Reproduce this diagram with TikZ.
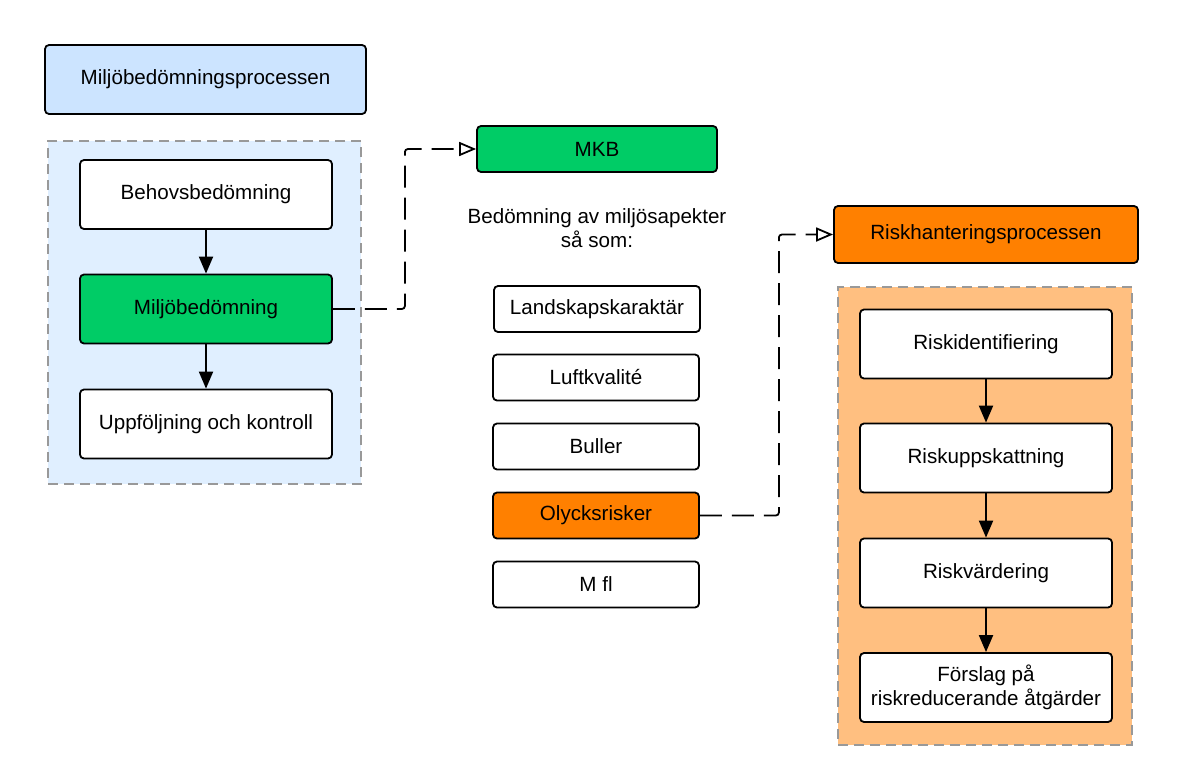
\documentclass[tikz,border=0pt]{standalone}
\usepackage{fontspec}
\setmainfont{Liberation Sans}
\usetikzlibrary{arrows.meta}

\definecolor{mkbgreen}{HTML}{00CC66}
\definecolor{riskorange}{HTML}{FF8000}
\definecolor{riskbg}{HTML}{FFBF80}
\definecolor{titleblue}{HTML}{CCE4FF}
\definecolor{procbg}{HTML}{E0EFFF}
\definecolor{framegray}{HTML}{999999}

\tikzset{
  box/.style={draw=black, line width=1.8pt, rounded corners=4pt, fill=white,
    minimum width=252pt, minimum height=69pt, inner sep=0pt, align=center,
    font=\fontsize{20.6}{24.5}\selectfont},
  aspect/.style={box, minimum width=206pt, minimum height=46pt},
  frame/.style={draw=framegray, line width=1.5pt, dash pattern=on 10pt off 6pt,
    minimum width=313pt, minimum height=343pt, inner sep=0pt},
  flow/.style={line width=2pt, -{Triangle[length=17pt,width=14pt]}},
  link/.style={line width=1.8pt, dash pattern=on 22pt off 10pt, rounded corners=3pt,
    -{Triangle[open,length=17pt,width=14pt,line width=1.8pt]}}
}

\begin{document}
\begin{tikzpicture}[x=1pt,y=-1pt]
\useasboundingbox (0,0) rectangle (1185,768);

% left column
\node[box, fill=titleblue, minimum width=321pt] (title) at (205.5,79.5) {Miljöbedömningsprocessen};
\node[frame, fill=procbg] (procframe) at (204.5,312.5) {};
\node[box] (beh) at (206,194.5) {Behovsbedömning};
\node[box, fill=mkbgreen] (milj) at (206,309) {Miljöbedömning};
\node[box] (upp) at (206,424) {Uppföljning och kontroll};
\draw[flow] (beh) -- (milj);
\draw[flow] (milj) -- (upp);

% middle column
\node[box, fill=mkbgreen, minimum width=240pt, minimum height=46pt] (mkb) at (597,149) {MKB};
\node[align=center, font=\fontsize{20.6}{24.5}\selectfont] (intro) at (597,228) {Bedömning av miljösapekter\\så som:};
\node[aspect] (land) at (597,309) {Landskapskaraktär};
\node[aspect] (luft) at (596,377.5) {Luftkvalité};
\node[aspect] (buller) at (596,446.5) {Buller};
\node[aspect, fill=riskorange] (olyck) at (596,515.5) {Olycksrisker};
\node[aspect] (mfl) at (596,584.5) {M fl};

% right column
\node[box, fill=riskorange, minimum width=304pt, minimum height=57pt] (riskh) at (986,234.5) {Riskhanteringsprocessen};
\node[frame, fill=riskbg, minimum width=294pt, minimum height=458pt] (riskframe) at (985,516) {};
\node[box] (rid) at (986,344) {Riskidentifiering};
\node[box] (rupp) at (986,458) {Riskuppskattning};
\node[box] (rvard) at (986,573) {Riskvärdering};
\node[box] (forslag) at (986,687.5) {Förslag på\\riskreducerande åtgärder};
\draw[flow] (rid) -- (rupp);
\draw[flow] (rupp) -- (rvard);
\draw[flow] (rvard) -- (forslag);

% dashed links
\draw[link] (milj.east) -- ++(72,0) |- (mkb.west);
\draw[link] (olyck.east) -- ++(79,0) |- (riskh.west);
\end{tikzpicture}
\end{document}
